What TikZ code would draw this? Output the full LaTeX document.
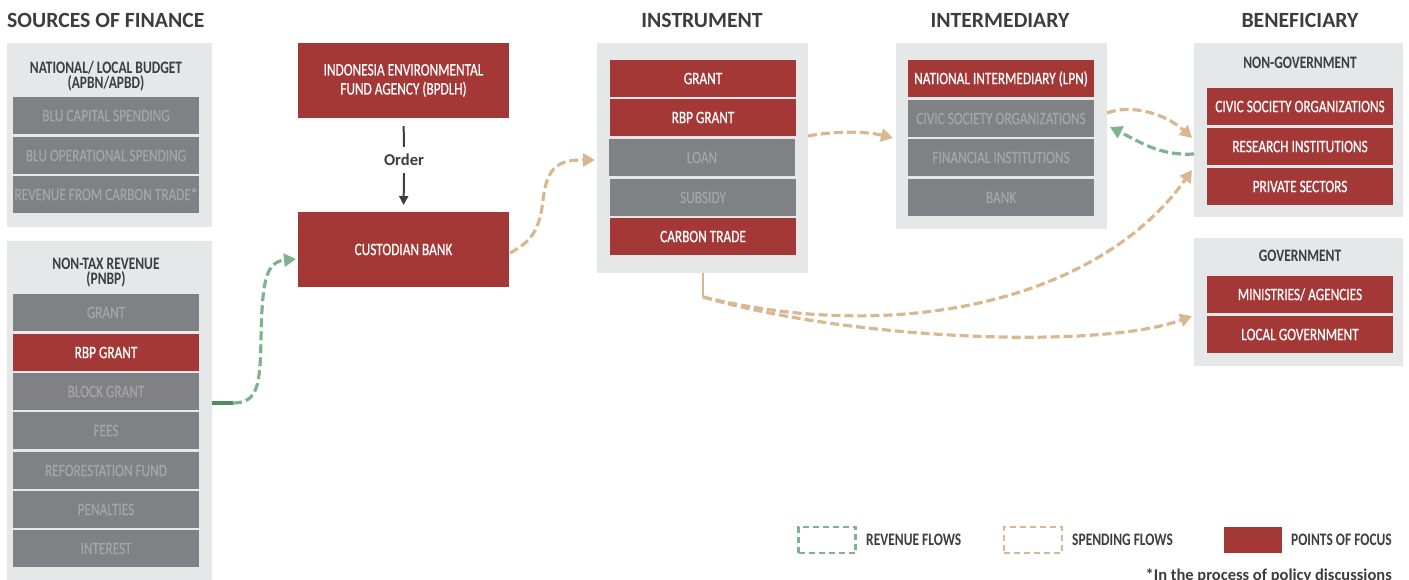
\documentclass[tikz,border=0pt]{standalone}
\usepackage{fontspec}
\setmainfont{Carlito}
\newfontfamily\cf{Carlito}[FakeStretch=0.77]
\newfontfamily\cfm{Carlito}[FakeStretch=0.76, FakeBold=0.7]
\usetikzlibrary{arrows.meta,calc}
\definecolor{focusred}{HTML}{A33836}
\definecolor{boxgrey}{HTML}{808184}
\definecolor{greytxt}{HTML}{A4A5A8}
\definecolor{panelgrey}{HTML}{E6E7E8}
\definecolor{titlegrey}{HTML}{3D3D3F}
\definecolor{revgreen}{HTML}{7DB48D}
\definecolor{revdark}{HTML}{4E8D5E}
\definecolor{spendtan}{HTML}{D9B790}
\begin{document}
\begin{tikzpicture}[x=1pt,y=-1pt,
  panel/.style={anchor=north west, fill=panelgrey, draw=none, inner sep=0pt, outer sep=0pt},
  itembox/.style={anchor=north west, minimum width=186pt, minimum height=37pt, inner sep=0pt, outer sep=0pt, text height=11.3pt, text depth=0pt, font=\cfm\fontsize{17.5}{19}\selectfont},
  focus/.style={itembox, fill=focusred, text=white},
  plain/.style={itembox, fill=boxgrey, text=greytxt},
  bigfocus/.style={anchor=north west, minimum width=211pt, minimum height=75pt, inner sep=0pt, outer sep=0pt, fill=focusred, text=white, align=center, font=\cfm\fontsize{17.5}{19}\selectfont},
  ptitle/.style={font=\cf\bfseries\fontsize{17.5}{15}\selectfont, text=titlegrey, align=center, inner sep=0pt},
  header/.style={font=\bfseries\fontsize{21.7}{24}\selectfont, text=titlegrey, inner sep=0pt},
  legtext/.style={font=\cf\bfseries\fontsize{17.5}{19}\selectfont, text=titlegrey, inner sep=0pt, anchor=west},
  flow/.style={line width=3.2pt, dash pattern=on 9pt off 4pt, -{Triangle[length=12pt,width=13pt]}},
  spend/.style={flow, draw=spendtan},
  rev/.style={flow, draw=revgreen}
]
\useasboundingbox (0,0) rectangle (1409,580);

% headers
\node[header, anchor=west] (hsrc) at (7,20) {SOURCES OF FINANCE};
\node[header] (hinst) at (702,20) {INSTRUMENT};
\node[header] (hint) at (1000,20) {INTERMEDIARY};
\node[header] (hben) at (1300,20) {BENEFICIARY};

% sources: national budget
\node[panel, minimum width=205pt, minimum height=184pt] (budget) at (7,43) {};
\node[ptitle] (budgett) at (106,76) {NATIONAL/ LOCAL BUDGET\\(APBN/APBD)};
\node[plain] (b1) at (13,97) {BLU CAPITAL SPENDING};
\node[plain] (b2) at (13,137) {BLU OPERATIONAL SPENDING};
\node[plain] (b3) at (13,176) {REVENUE FROM CARBON TRADE*};

% sources: non-tax revenue
\node[panel, minimum width=205pt, minimum height=345pt] (pnbp) at (7,241) {};
\node[ptitle] (pnbpt) at (106,273) {NON-TAX REVENUE\\(PNBP)};
\node[plain] (p1) at (13,294) {GRANT};
\node[focus] (p2) at (13,334) {RBP GRANT};
\node[plain] (p3) at (13,373) {BLOCK GRANT};
\node[plain] (p4) at (13,412) {FEES};
\node[plain] (p5) at (13,452) {REFORESTATION FUND};
\node[plain] (p6) at (13,491) {PENALTIES};
\node[plain] (p7) at (13,530) {INTEREST};

% BPDLH and custodian
\node[bigfocus] (bpdlh) at (298,43) {INDONESIA ENVIRONMENTAL\\FUND AGENCY (BPDLH)};
\node[bigfocus] (custodian) at (298,212) {CUSTODIAN BANK};
\node[font=\bfseries\fontsize{16.5}{18}\selectfont, text=titlegrey, inner sep=0pt, minimum height=26pt] (order) at (404,160) {Order};
\draw[titlegrey, line width=2pt, shorten <=8pt] (bpdlh.south) -- (order.north);
\draw[titlegrey, line width=2pt, shorten >=7pt, -{Triangle[length=9pt,width=9pt]}] (order.south) -- (custodian.north);

% instrument
\node[panel, minimum width=211pt, minimum height=230pt] (instr) at (597,43) {};
\node[focus] (i1) at (610,60) {GRANT};
\node[focus] (i2) at (610,99) {RBP GRANT};
\node[plain] (i3) at (609,139) {LOAN};
\node[plain] (i4) at (610,179) {SUBSIDY};
\node[focus] (i5) at (610,218) {CARBON TRADE};

% intermediary
\node[panel, minimum width=211pt, minimum height=186pt] (inter) at (896,43) {};
\node[focus] (m1) at (908,60) {NATIONAL INTERMEDIARY (LPN)};
\node[plain] (m2) at (908,100) {CIVIC SOCIETY ORGANIZATIONS};
\node[plain] (m3) at (908,139) {FINANCIAL INSTITUTIONS};
\node[plain] (m4) at (908,179) {BANK};

% beneficiary
\node[panel, minimum width=209pt, minimum height=174pt] (nongov) at (1194,43) {};
\node[ptitle] (nongovt) at (1300,63) {NON-GOVERNMENT};
\node[focus] (n1) at (1207,88) {CIVIC SOCIETY ORGANIZATIONS};
\node[focus] (n2) at (1207,128) {RESEARCH INSTITUTIONS};
\node[focus] (n3) at (1207,168) {PRIVATE SECTORS};
\node[panel, minimum width=209pt, minimum height=128pt] (gov) at (1194,238) {};
\node[ptitle] (govt) at (1300,256) {GOVERNMENT};
\node[focus] (g1) at (1207,276) {MINISTRIES/ AGENCIES};
\node[focus] (g2) at (1207,316) {LOCAL GOVERNMENT};

% flows
\coordinate (r0) at (pnbp.east |- 0,403);
\coordinate (r1) at ($(r0)+(21,0)$);
\coordinate (r2) at ($(custodian.west)+(-2,9.5)$);
\draw[revdark, line width=3.2pt] (r0) -- (r1);
\draw[rev] (r1) .. controls (258,403) and (260,385) .. (261,340) .. controls (262,280) and (266,262) .. (r2);

\coordinate (s0) at ($(custodian.east)+(1,3.5)$);
\coordinate (s1) at ($(instr.west)+(-2,2)$);
\draw[spend] (s0) .. controls (535,240) and (540,225) .. (543,200) .. controls (547,165) and (560,160) .. (s1);

\coordinate (s2) at ($(instr.east)+(0,-22)$);
\coordinate (s3) at ($(inter.west)+(-3,2)$);
\draw[spend] (s2) .. controls (835,131) and (865,131) .. (s3);

\coordinate (s4) at ($(inter.east)+(0,-23)$);
\coordinate (s5) at ($(nongov.west)+(-2,8)$);
\draw[spend] (s4) .. controls (1130,104) and (1165,113) .. (s5);

\coordinate (r3) at ($(nongov.west)+(0,24)$);
\coordinate (r4) at ($(inter.east)+(3,-9)$);
\draw[rev] (r3) .. controls (1160,156) and (1140,142) .. (r4);

\coordinate (t0) at (instr.south -| 703,0);
\coordinate (t1) at (703,297);
\coordinate (s6) at ($(nongov.west)+(-2,40)$);
\coordinate (s7) at ($(gov.west)+(-2,14)$);
\draw[spendtan, line width=2.5pt] (t0) -- (t1);
\draw[spend] (t1) .. controls (900,345) and (1100,300) .. (s6);
\draw[spend] (t1) .. controls (850,340) and (1100,350) .. (s7);

% legend
\node[draw=revgreen, line width=2.5pt, dash pattern=on 6pt off 4pt, minimum width=57pt, minimum height=26pt, inner sep=0pt] (lrev) at (827,540) {};
\node[legtext] (lrevt) at (866,540) {REVENUE FLOWS};
\node[draw=spendtan, line width=2.5pt, dash pattern=on 6pt off 4pt, minimum width=58pt, minimum height=26pt, inner sep=0pt] (lsp) at (1033,540) {};
\node[legtext] (lspt) at (1072,540) {SPENDING FLOWS};
\node[fill=focusred, minimum width=58pt, minimum height=26pt, inner sep=0pt] (lfoc) at (1253,540) {};
\node[legtext] (lfoct) at (1291,540) {POINTS OF FOCUS};
\node[font=\bfseries\fontsize{16.5}{18}\selectfont, text=titlegrey, inner sep=0pt, anchor=north east] (note) at (1392,568) {*In the process of policy discussions};
\end{tikzpicture}
\end{document}
